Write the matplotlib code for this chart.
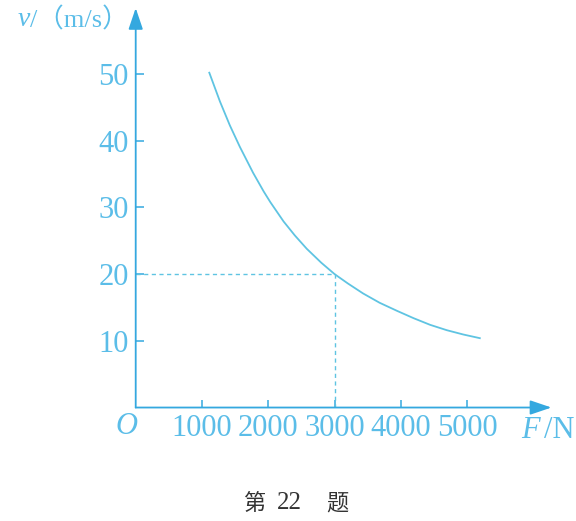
import numpy as np
import matplotlib
matplotlib.use("Agg")
import matplotlib.pyplot as plt

# 曲线上读出的点 (F/N, v/(m/s))
F = [1110, 1270, 1420, 1570, 1770, 1930, 2030, 2230, 2400, 2580, 2800,
     3000, 3200, 3430, 3680, 3940, 4190, 4440, 4690, 4940, 5190]
v = [50.2, 45.9, 42.3, 39.1, 35.2, 32.4, 30.8, 27.9, 25.8, 23.8, 21.7,
     20.0, 18.6, 17.1, 15.7, 14.5, 13.4, 12.4, 11.6, 10.95, 10.4]

# 虚线标注的点
F0, v0 = 3000, 20

xticks = [1000, 2000, 3000, 4000, 5000]
yticks = [10, 20, 30, 40, 50]

axis_c = "#34a8df"
text_c = "#5bbde8"
curve_c = "#5fc4e2"

fig = plt.figure(figsize=(5.76, 5.21), dpi=100)
ax = fig.add_axes([0.2356, 0.2178, 0.7252, 0.7681])
ax.set_xlim(0, 6300)
ax.set_ylim(0, 60)
for s in ax.spines.values():
    s.set_visible(False)

# 坐标轴 + 箭头
arr = dict(arrowstyle="-|>,head_length=0.65,head_width=0.22", color=axis_c,
           lw=1.3, shrinkA=0, shrinkB=0, mutation_scale=20)
ax.annotate("", xy=(6270, 0), xytext=(0, 0), arrowprops=arr, annotation_clip=False)
ax.annotate("", xy=(0, 59.9), xytext=(0, 0), arrowprops=arr, annotation_clip=False)

# 曲线
ax.plot(F, v, color=curve_c, lw=1.3, solid_joinstyle="round")

# 虚线
ax.plot([0, F0], [v0, v0], color=curve_c, lw=1.0, ls=(0, (3, 2.5)))
ax.plot([F0, F0], [0, v0], color=curve_c, lw=1.0, ls=(0, (3, 2.5)))

ax.set_xticks(xticks)
ax.set_yticks(yticks)
ax.set_xticklabels([str(t) for t in xticks])
ax.set_yticklabels([str(t) for t in yticks])
ax.tick_params(direction="in", length=6, width=1.1, color=axis_c,
               labelcolor=text_c, labelsize=22, pad=5)
for lab in ax.get_xticklabels() + ax.get_yticklabels():
    lab.set_family("Liberation Serif")

# 轴标签
fig.text(126.7 / 576, 1 - 427 / 521, "O", color=text_c, fontsize=22,
         family="Liberation Serif", style="italic", ha="center", va="center")
fig.text(521 / 576, 1 - 431 / 521, "F", color=text_c, fontsize=22,
         family="Liberation Serif", style="italic", ha="left", va="center")
fig.text(575 / 576, 1 - 431 / 521, "/N", color=text_c, fontsize=22,
         family="Liberation Serif", ha="right", va="center")
fig.text(18 / 576, 1 - 20 / 521, "v", color=text_c, fontsize=20,
         family="Liberation Serif", style="italic", ha="left", va="center")
fig.text(30 / 576, 1 - 20 / 521, "/（m/s）", color=text_c, fontsize=19,
         family=["Liberation Serif", "Noto Sans CJK SC"], ha="left", va="center")

# 题号
cap_y = 1 - 503 / 521
fig.text(254 / 576, cap_y, "第", color="#333333", fontsize=16,
         family="Noto Sans CJK SC", ha="center", va="center")
fig.text(289 / 576, cap_y, "22", color="#333333", fontsize=18,
         family="Liberation Serif", ha="center", va="center")
fig.text(337 / 576, cap_y, "题", color="#333333", fontsize=16,
         family="Noto Sans CJK SC", ha="center", va="center")

fig.savefig("out.png", dpi=100)
